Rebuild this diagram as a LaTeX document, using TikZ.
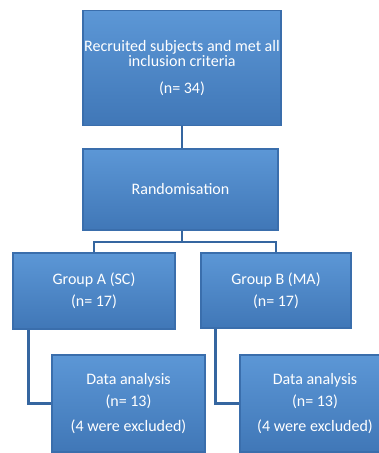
\documentclass[tikz,border=0pt]{standalone}
\usepackage{fontspec}
\setmainfont{Carlito}
\usetikzlibrary{positioning, calc}
\definecolor{boxtop}{HTML}{5C97D6}
\definecolor{boxbot}{HTML}{4077B7}
\definecolor{boxedge}{HTML}{3A6EAC}
\definecolor{linkblue}{HTML}{3566A0}
\tikzstyle{stage} = [rectangle, draw=boxedge, line width=1.2pt, top color=boxtop, bottom color=boxbot, text=white, align=center, font=\fontsize{16}{15}\selectfont, inner sep=0pt]
\tikzstyle{link} = [draw=linkblue, line width=2.4pt]

\begin{document}
\begin{tikzpicture}[x=1pt, y=-1pt]
\useasboundingbox (0,0) rectangle (378,453);
\node (recruit) [stage, minimum width=198pt, minimum height=115pt] at (182,68) {Recruited subjects and met all\\inclusion criteria\\[12pt](n= 34)};
\node (random) [stage, minimum width=195pt, minimum height=81pt] at (180.5,189.5) {Randomisation};
\node (groupa) [stage, minimum width=162pt, minimum height=76pt] at (94,291) {Group A (SC)\\[6.7pt](n= 17)};
\node (groupb) [stage, minimum width=150pt, minimum height=75pt] at (276,290.5) {Group B (MA)\\[6.7pt](n= 17)};
\node (dataa) [stage, minimum width=153pt, minimum height=97pt] at (128.5,403.5) {Data analysis\\[6.7pt](n= 13)\\[10pt](4 were excluded)};
\node (datab) [stage, minimum width=150pt, minimum height=97pt] at (315,403.5) {Data analysis\\[6.7pt](n= 13)\\[10pt](4 were excluded)};
\coordinate (split) at (182,242);
\draw [link] (recruit.south -| split) -- (random.north -| split);
\draw [link] (random.south -| split) -- (split);
\draw [link] (groupa.north) |- (split) -| (groupb.north);
\draw [link] ($(groupa.south west)+(16,0)$) |- (dataa.west);
\draw [link] ($(groupb.south west)+(15,0)$) |- (datab.west);
\end{tikzpicture}
\end{document}
